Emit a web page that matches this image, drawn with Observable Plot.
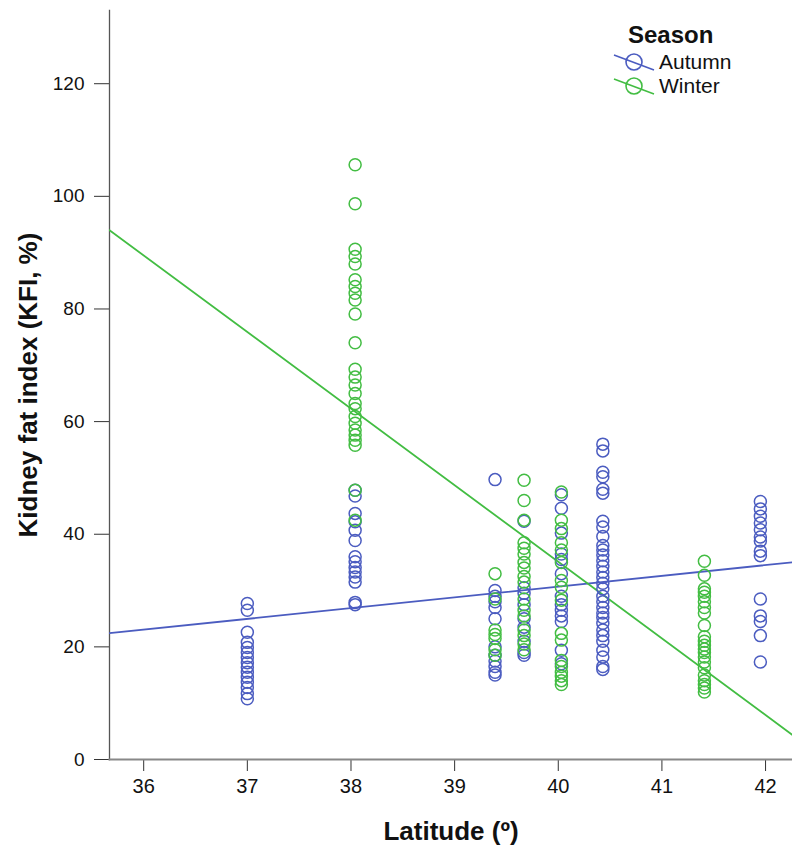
<!DOCTYPE html>
<html>
<head>
<meta charset="utf-8">
<script src="https://cdn.jsdelivr.net/npm/d3@7"></script>
<script src="https://cdn.jsdelivr.net/npm/@observablehq/plot@0.6"></script>
<style>
  html, body { margin: 0; padding: 0; background: #fff; }
  #wrap { position: relative; width: 792px; height: 847px; font-family: "Liberation Sans", Arial, sans-serif; color: #111; }
  #legend { position: absolute; left: 600px; top: 20px; width: 192px; }
  #legend .title { font-weight: bold; font-size: 24px; margin-left: 28px; line-height: 30px; }
  #legend .row { display: flex; align-items: center; height: 24px; font-size: 21px; }
  #legend svg { margin-left: 12px; margin-right: 3px; }
</style>
</head>
<body>
<div id="wrap"></div>
<script>
// Sampling latitudes (degrees) of each site
const latitudes = [37.0, 38.04, 39.39, 39.67, 40.03, 40.43, 41.41, 41.95];

// Kidney fat index (%) per site, autumn samples
const autumnKFI = [
  [27.7, 26.5, 22.6, 20.8, 19.9, 19.0, 18.1, 17.2, 16.4, 15.5, 14.6, 13.7, 12.8, 11.7, 10.8],
  [47.8, 46.8, 43.7, 42.2, 40.7, 38.9, 36.0, 35.1, 34.1, 33.3, 32.4, 31.5, 27.9, 27.5],
  [49.7, 30.0, 29.0, 28.0, 27.0, 25.0, 20.0, 18.5, 17.5, 16.5, 15.5, 15.0],
  [42.3, 30.5, 29.5, 27.5, 25.0, 23.5, 21.0, 19.0, 18.5],
  [47.0, 44.6, 40.2, 36.5, 35.5, 33.0, 29.0, 27.5, 26.5, 25.5, 24.5, 19.4, 17.0],
  [56.0, 54.8, 51.0, 50.2, 48.0, 47.3, 42.3, 41.3, 39.6, 38.0, 37.2, 36.3, 35.3, 34.3, 33.3, 32.3,
   31.3, 30.3, 29.0, 28.0, 27.0, 26.0, 25.2, 24.2, 23.0, 22.0, 21.0, 19.4, 18.2, 16.5, 16.0],
  [],
  [45.8, 44.5, 43.2, 42.0, 40.8, 39.5, 38.8, 37.0, 36.2, 28.5, 25.5, 24.5, 22.0, 17.3]
];

// Kidney fat index (%) per site, winter samples
const winterKFI = [
  [],
  [105.6, 98.7, 90.6, 89.3, 88.0, 85.2, 84.0, 82.8, 81.6, 79.1, 74.0, 69.3, 67.9, 66.5, 65.0,
   63.2, 62.3, 60.9, 59.7, 58.5, 57.6, 56.7, 55.8, 47.8, 42.5],
  [33.0, 28.5, 23.0, 22.2, 21.5, 19.5, 18.5],
  [49.6, 46.0, 42.5, 38.5, 37.5, 36.5, 35.0, 34.0, 32.5, 31.5, 28.5, 26.5, 25.5, 23.0, 22.0, 20.5, 19.5],
  [47.5, 42.5, 41.0, 38.5, 37.2, 35.0, 31.8, 30.6, 28.3, 22.4, 21.2, 17.6, 16.5, 15.5, 14.8, 14.0, 13.3],
  [],
  [35.2, 32.7, 30.3, 29.7, 29.0, 28.0, 27.0, 26.0, 23.8, 21.8, 21.0, 20.3, 19.6, 19.0, 18.2, 17.3,
   16.3, 15.0, 14.0, 13.3, 12.7, 12.0],
  []
];

// Linear fit per season: KFI = intercept + slope * latitude
const seasons = ["Autumn", "Winter"];
const fitIntercepts = [-45.7, 579.1];
const fitSlopes = [1.91, -13.6];
const seasonColors = ["#4b5cc0", "#43bd43"];

const xTicks = [36, 37, 38, 39, 40, 41, 42];
const yTicks = [0, 20, 40, 60, 80, 100, 120];
const xDomain = [35.67, 42.26];
const yDomain = [0, 133];

// Long-format table of samples
const samples = [];
[autumnKFI, winterKFI].forEach((bySite, s) => {
  bySite.forEach((vals, i) => {
    vals.forEach(v => samples.push({season: seasons[s], lat: latitudes[i], kfi: v}));
  });
});

// Fit lines spanning the x domain
const fitLines = [];
seasons.forEach((season, s) => {
  xDomain.forEach(x => fitLines.push({season, lat: x, kfi: fitIntercepts[s] + fitSlopes[s] * x}));
});

const color = {domain: seasons, range: seasonColors};

const chart = Plot.plot({
  width: 792,
  height: 847,
  marginLeft: 109,
  marginRight: 0,
  marginTop: 10,
  marginBottom: 88,
  style: {fontFamily: "'Liberation Sans', Arial, sans-serif", color: "#111", background: "#fff"},
  x: {domain: xDomain, label: null},
  y: {domain: yDomain, label: null},
  color,
  marks: [
    Plot.axisX({ticks: xTicks, tickSize: 12, text: null, label: null, stroke: "#333"}),
    Plot.axisY({ticks: yTicks, tickSize: 15, text: null, label: null, stroke: "#333"}),
    // Tick labels as text marks so their face and size are explicit
    Plot.text(xTicks, {x: d => d, frameAnchor: "bottom", lineAnchor: "top", dy: 19, text: d => String(d),
      fontSize: 20, fill: "#111"}),
    Plot.text(yTicks, {y: d => d, frameAnchor: "left", textAnchor: "end", dx: -25, text: d => String(d),
      fontSize: 19, fill: "#111"}),
    Plot.frame({anchor: "left", stroke: "#555", strokeWidth: 1.3}),
    Plot.frame({anchor: "bottom", stroke: "#888", strokeWidth: 2}),
    Plot.line(fitLines, {x: "lat", y: "kfi", z: "season", stroke: "season", strokeWidth: 1.8, clip: true}),
    Plot.dot(samples, {x: "lat", y: "kfi", stroke: "season", r: 6, strokeWidth: 1.5, fill: "none"}),
    Plot.text(["Latitude (º)"], {frameAnchor: "bottom", dy: 80, fontWeight: "bold", fontSize: 26, fill: "#111"}),
    Plot.text(["Kidney fat index (KFI, %)"], {frameAnchor: "left", textAnchor: "middle", dx: -81, rotate: -90, fontWeight: "bold", fontSize: 26, fill: "#111"})
  ]
});

const wrap = document.getElementById("wrap");
wrap.appendChild(chart);

// Legend: open circle with a fit-line stroke through it
const legend = document.createElement("div");
legend.id = "legend";
legend.innerHTML = `<div class="title">Season</div>` + seasons.map((s, i) => `
  <div class="row">
    <svg width="44" height="22" viewBox="0 0 44 22">
      <line x1="2" y1="4" x2="42" y2="19" stroke="${seasonColors[i]}" stroke-width="1.6"/>
      <circle cx="22" cy="11" r="8" fill="none" stroke="${seasonColors[i]}" stroke-width="1.6"/>
    </svg>
    <span>${s}</span>
  </div>`).join("");
wrap.appendChild(legend);
</script>
</body>
</html>
